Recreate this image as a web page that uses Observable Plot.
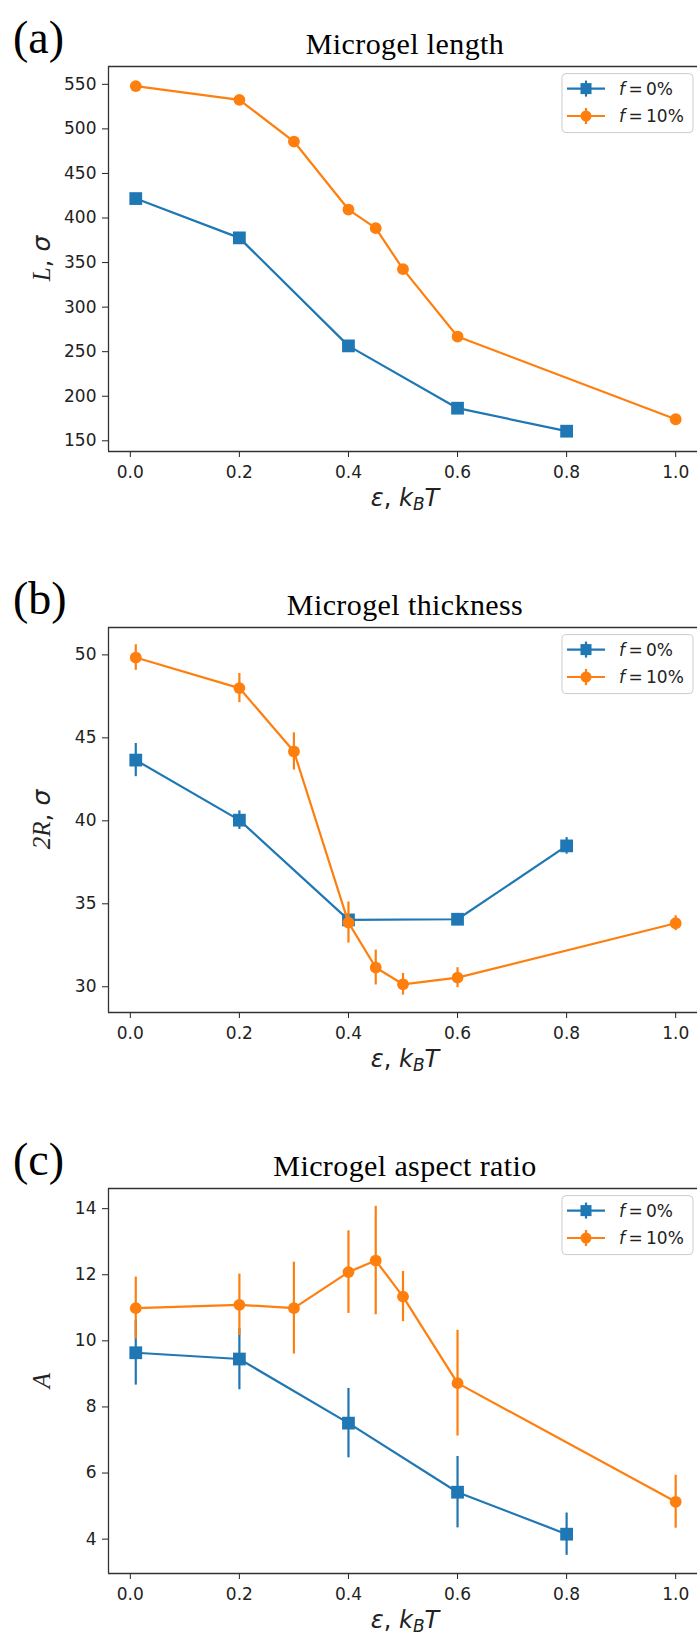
<!DOCTYPE html>
<html><head><meta charset="utf-8">
<script src="https://cdn.jsdelivr.net/npm/d3@7"></script>
<script src="https://cdn.jsdelivr.net/npm/@observablehq/plot@0.6"></script>
<style>
html,body{margin:0;padding:0;background:#fff;overflow:hidden;}
#root{width:697px;}
#root svg{display:block;}
</style></head><body><div id="root"></div>
<script>
// ---- data ----
const epsBlue = [0.01, 0.2, 0.4, 0.6, 0.8];
const epsOrange = [0.01, 0.2, 0.3, 0.4, 0.45, 0.5, 0.6, 1.0];

const lengthBlue = [421.8, 377.7, 256.5, 186.6, 160.8];
const lengthOrange = [548, 532.6, 485.8, 409.5, 388.6, 342.6, 267, 174.2];

const thickBlue = [43.66, 40.04, 34.03, 34.07, 38.49];
const thickBlueErr = [1.0, 0.56, 0.2, 0.2, 0.5];
const thickOrange = [49.84, 48.0, 44.18, 33.87, 31.16, 30.15, 30.55, 33.83];
const thickOrangeErr = [0.77, 0.88, 1.12, 1.24, 1.05, 0.65, 0.6, 0.45];

const aspectBlue = [9.64, 9.45, 7.51, 5.42, 4.15];
const aspectBlueErr = [0.98, 0.93, 1.05, 1.08, 0.64];
const aspectOrange = [10.99, 11.09, 10.99, 12.08, 12.43, 11.34, 8.72, 5.13];
const aspectOrangeErr = [0.94, 0.93, 1.39, 1.25, 1.64, 0.76, 1.6, 0.8];

const xTicks = [0, 0.2, 0.4, 0.6, 0.8, 1.0];
const lengthTicks = [150, 200, 250, 300, 350, 400, 450, 500, 550];
const thickTicks = [30, 35, 40, 45, 50];
const aspectTicks = [4, 6, 8, 10, 12, 14];

const seriesValues = ["0%", "10%"];
const panelLetters = ["(a)", "(b)", "(c)"];
const titles = ["Microgel length", "Microgel thickness", "Microgel aspect ratio"];
const yLabelSymbols = ["L", "2R", "A"];
const yLabelUnits = [", σ", ", σ", ""];

// ---- drawing ----
const COLORS = ["#1f77b4", "#ff7f0e"];
const SERIF = "'Liberation Serif','Times New Roman',serif";
const SANS = "'DejaVu Sans',sans-serif";
const MT = 66, FH = 385;

function rows(xs, ys, es) {
  return xs.map((x, i) => ({x, y: ys[i], e: es ? es[i] : 0}));
}

function panel(cfg) {
  const blue = rows(epsBlue, cfg.blue, cfg.blueErr);
  const orange = rows(epsOrange, cfg.orange, cfg.orangeErr);
  const xDom = [-0.04, 1.04];
  const marks = [
    Plot.ruleY([cfg.yDomain[1]], {stroke: "#333", strokeWidth: 1.3}),
    Plot.ruleY([cfg.yDomain[0]], {stroke: "#333", strokeWidth: 1.3}),
    Plot.ruleX([xDom[0]], {stroke: "#333", strokeWidth: 1.3}),
  ];
  [[blue, 0, "square", 7.2], [orange, 1, "circle", 5.9]].forEach(([d, k, sym, r]) => {
    marks.push(Plot.line(d, {x: "x", y: "y", stroke: COLORS[k], strokeWidth: 2.2}));
    if (cfg.blueErr) marks.push(Plot.ruleX(d, {x: "x", y1: v => v.y - v.e, y2: v => v.y + v.e, stroke: COLORS[k], strokeWidth: 2.2}));
    marks.push(Plot.dot(d, {x: "x", y: "y", symbol: sym, r, fill: COLORS[k], stroke: "none"}));
  });
  const chart = Plot.plot({
    width: 697, height: cfg.height,
    marginLeft: 108, marginRight: 0, marginTop: MT, marginBottom: cfg.height - MT - FH,
    x: {domain: xDom, ticks: xTicks, tickFormat: d3.format(".1f"), tickSize: 6, tickPadding: 8, label: null},
    y: {domain: cfg.yDomain, ticks: cfg.yTicks, tickSize: 6, tickPadding: 6, label: null},
    style: {fontFamily: SANS, fontSize: "17px", color: "#222", background: "white"},
    marks
  });
  const svg = d3.select(chart);
  // panel letter
  svg.append("text").attr("x", 13).attr("y", MT - 13).attr("text-anchor", "start")
    .attr("font-family", SERIF).attr("font-size", 46).attr("fill", "#000").text(cfg.letter);
  // title
  svg.append("text").attr("x", 405).attr("y", MT - 12).attr("text-anchor", "middle")
    .attr("font-family", SERIF).attr("font-size", 30).attr("letter-spacing", "0.4px")
    .attr("fill", "#000").text(cfg.title);
  // x label
  const xl = svg.append("text").attr("x", 405).attr("y", MT + FH + 55).attr("text-anchor", "middle")
    .attr("font-family", SANS).attr("font-size", 24).attr("fill", "#222");
  xl.append("tspan").attr("font-style", "italic").text("ε");
  xl.append("tspan").text(", ");
  xl.append("tspan").attr("font-style", "italic").text("k");
  xl.append("tspan").attr("font-style", "italic").attr("font-size", 17).attr("dy", 4).text("B");
  xl.append("tspan").attr("font-style", "italic").attr("dy", -4).text("T");
  // y label
  const yl = svg.append("text").attr("transform", `translate(41,${MT + FH / 2}) rotate(-90)`)
    .attr("text-anchor", "middle").attr("dominant-baseline", "central")
    .attr("font-size", 25).attr("fill", "#222");
  yl.append("tspan").attr("font-family", SERIF).attr("font-style", "italic").text(cfg.ysym);
  if (cfg.yunit) {
    yl.append("tspan").attr("font-family", SANS).text(cfg.yunit.slice(0, 2));
    yl.append("tspan").attr("font-family", SANS).attr("font-style", "italic").text(cfg.yunit.slice(2));
  }
  // legend
  const lg = svg.append("g");
  lg.append("rect").attr("x", 562).attr("y", MT + 7.6).attr("width", 131).attr("height", 59)
    .attr("rx", 4).attr("fill", "white").attr("fill-opacity", 0.8).attr("stroke", "#ccc");
  seriesValues.forEach((s, i) => {
    const cy = MT + 22.6 + i * 27.4;
    lg.append("line").attr("x1", 567).attr("x2", 605).attr("y1", cy).attr("y2", cy)
      .attr("stroke", COLORS[i]).attr("stroke-width", 2.2);
    lg.append("line").attr("x1", 586).attr("x2", 586).attr("y1", cy - 8).attr("y2", cy + 8)
      .attr("stroke", COLORS[i]).attr("stroke-width", 2.2);
    if (i === 0) lg.append("rect").attr("x", 580.5).attr("y", cy - 5.5).attr("width", 11).attr("height", 11).attr("fill", COLORS[i]);
    else lg.append("circle").attr("cx", 586).attr("cy", cy).attr("r", 5.5).attr("fill", COLORS[i]);
    const t = lg.append("text").attr("x", 619).attr("y", cy).attr("text-anchor", "start")
      .attr("dominant-baseline", "central")
      .attr("font-family", SANS).attr("font-size", 17).attr("fill", "#222");
    t.append("tspan").attr("font-style", "italic").text("f");
    t.append("tspan").text("\u2009=\u2009" + s);
  });
  return chart;
}

const root = document.getElementById("root");
root.appendChild(panel({letter: panelLetters[0], title: titles[0], ysym: yLabelSymbols[0], yunit: yLabelUnits[0], height: 561,
  yDomain: [138, 570], yTicks: lengthTicks, blue: lengthBlue, orange: lengthOrange}));
root.appendChild(panel({letter: panelLetters[1], title: titles[1], ysym: yLabelSymbols[1], yunit: yLabelUnits[1], height: 561,
  yDomain: [28.45, 51.65], yTicks: thickTicks, blue: thickBlue, blueErr: thickBlueErr, orange: thickOrange, orangeErr: thickOrangeErr}));
root.appendChild(panel({letter: panelLetters[2], title: titles[2], ysym: yLabelSymbols[2], yunit: yLabelUnits[2], height: 515,
  yDomain: [2.96, 14.61], yTicks: aspectTicks, blue: aspectBlue, blueErr: aspectBlueErr, orange: aspectOrange, orangeErr: aspectOrangeErr}));
</script></body></html>
